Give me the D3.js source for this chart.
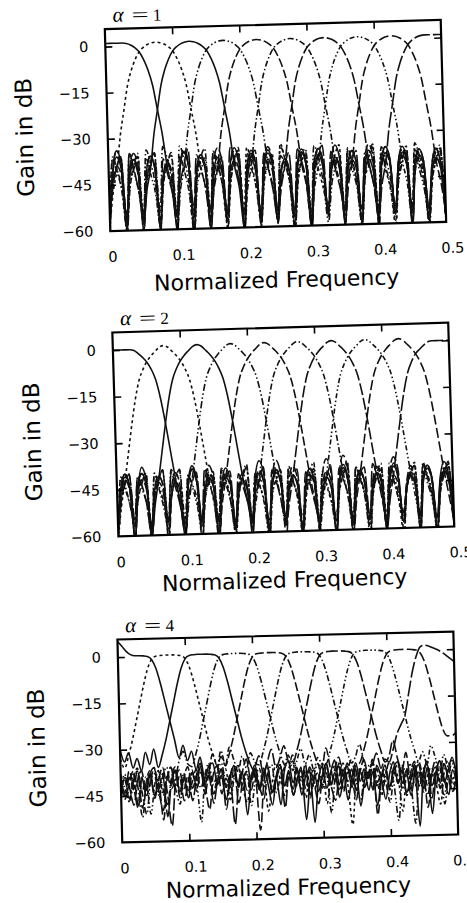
<!DOCTYPE html>
<html>
<head>
<meta charset="utf-8">
<script src="https://cdn.jsdelivr.net/npm/d3@7.9.0/dist/d3.min.js"></script>
<style>
  body { margin: 0; background: #fff; }
</style>
</head>
<body>
<svg id="fig" width="467" height="903"></svg>
<script>
// frequency grid shared by all curves
const freq = [0,.00625,.0125,.01875,.025,.03125,.0375,.04375,.05,.05625,.0625,.06875,.075,.08125,.0875,.09375,
  .1,.10625,.1125,.11875,.125,.13125,.1375,.14375,.15,.15625,.1625,.16875,.175,.18125,.1875,.19375,
  .2,.20625,.2125,.21875,.225,.23125,.2375,.24375,.25,.25625,.2625,.26875,.275,.28125,.2875,.29375,
  .3,.30625,.3125,.31875,.325,.33125,.3375,.34375,.35,.35625,.3625,.36875,.375,.38125,.3875,.39375,
  .4,.40625,.4125,.41875,.425,.43125,.4375,.44375,.45,.45625,.4625,.46875,.475,.48125,.4875,.49375,.5];

const xTicks = [0, 0.1, 0.2, 0.3, 0.4, 0.5];
const xTickLabels = ["0", "0.1", "0.2", "0.3", "0.4", "0.5"];
const yTicks = [0, -15, -30, -45, -60];
const yTickLabels = ["0", "\u221215", "\u221230", "\u221245", "\u221260"];
const alphas = ["1", "2", "4"];

// main lobe (gain in dB around the band centre)
const lobe1 = [-40,-29,-21,-13,-8,-4.5,-2,-0.6,0.3,0.8,1,0.8,0.3,-0.6,-2,-4.5,-8,-13,-21,-29,-40];
const lobe2 = [-42,-33,-24,-16,-10,-6.5,-4,-2.2,-0.8,0.5,1,0.5,-0.8,-2.2,-4,-6.5,-10,-16,-24,-33,-42];
const lobe3 = [-36,-32,-27,-21,-15,-9,-4,-1,0,0.2,0.3,0.3,0.3,0.2,0,-1,-4,-9,-15,-21,-27,-32,-36];

// ---- alpha = 1 ----
const a1b0 = [1,1,1,1,1,0.8,0.3,-0.6,-2,-4.5,-8,-13,-21,-29,-40,-47,
  -60,-40,-35,-39,-56,-40,-36,-40,-61,-42,-37,-41,-55,-39,-34,-38,-60,-43,-38,-42,-57,-40,-35,-39,-54,-42,-39,-42,-60,-41,-36,-40,
  -58,-39,-35,-39,-56,-42,-38,-41,-61,-40,-36,-40,-55,-43,-39,-43,-59,-41,-37,-40,-57,-40,-35,-39,-60,-42,-38,-41,-56,-41,-36,-40,-58];
const a1b1 = [-58,-47, ...lobe1, -47,
  -57,-36,-38,-46,-60,-45,-37,-35,-55,-34,-39,-47,-59,-44,-40,-36,-56,-33,-38,-45,-61,-46,-39,-37,-57,-38,-42,-48,
  -54,-43,-37,-34,-60,-35,-40,-46,-58,-45,-41,-38,-56,-37,-43,-49,-61,-44,-38,-35,-57,-36,-41,-47,-59,-46,-40,-37,-56];
const a1b2 = [-57,-41,-36,-40,-60,-42,-37,-41,-58,-47, ...lobe1, -47,
  -61,-40,-35,-39,-56,-41,-36,-40,-59,-43,-38,-42,-55,-39,-35,-39,-60,-42,-37,-41,-57,-40,-34,-38,
  -55,-42,-39,-42,-60,-41,-36,-40,-58,-39,-35,-39,-56,-42,-38,-41,-61,-40,-36,-40,-55,-43,-39,-42,-59];
const a1b3 = [-56,-44,-39,-36,-60,-35,-41,-47,-57,-46,-38,-35,-54,-33,-37,-45,-59,-47, ...lobe1, -47,
  -58,-37,-40,-46,-61,-45,-39,-36,-56,-34,-38,-46,-59,-47,-41,-37,-55,-36,-42,-48,
  -60,-44,-38,-34,-57,-35,-39,-45,-55,-46,-40,-37,-60,-38,-43,-49,-58,-43,-37,-35,-57];
const a1b4 = [-59,-40,-34,-38,-56,-42,-37,-41,-61,-41,-36,-40,-57,-43,-39,-42,-55,-40,-35,-39,-60,-42,-37,-41,-57,-47, ...lobe1, -47,
  -60,-40,-35,-39,-56,-42,-38,-42,-59,-41,-36,-40,-55,-39,-34,-38,-61,-42,-37,-41,-57,-40,-36,-40,-54,-43,-39,-42,-60,-41,-36,-40,-58];
const a1b5 = [-55,-37,-41,-47,-60,-46,-40,-36,-57,-34,-38,-45,-59,-45,-39,-35,-56,-36,-41,-48,-61,-44,-37,-34,
  -55,-35,-40,-46,-58,-45,-38,-36,-60,-47, ...lobe1, -47,
  -57,-36,-39,-46,-60,-44,-38,-35,-55,-37,-42,-48,-59,-45,-39,-36,-56,-34,-38,-45,-61,-46,-40,-37,-55];
const a1b6 = [-58,-40,-34,-38,-55,-42,-38,-42,-60,-41,-36,-40,-56,-43,-39,-42,-61,-40,-35,-39,-57,-41,-37,-41,
  -54,-39,-34,-38,-60,-42,-38,-41,-57,-40,-36,-40,-59,-43,-38,-42,-56,-47, ...lobe1, -47,
  -58,-40,-35,-39,-55,-42,-37,-41,-61,-41,-36,-40,-57,-43,-39,-42,-60];
const a1b7 = [-60,-36,-40,-46,-57,-45,-39,-35,-55,-37,-42,-48,-59,-44,-38,-36,-56,-33,-37,-45,-61,-46,-41,-37,
  -57,-35,-39,-46,-55,-44,-38,-34,-60,-36,-41,-47,-58,-45,-40,-37,-56,-34,-38,-45,-61,-44,-37,-35,-57,-47, ...lobe1, -47,
  -59,-36,-40,-46,-56,-45,-39,-36,-61];
const a1b8 = [-57,-43,-39,-42,-61,-40,-35,-39,-56,-41,-36,-40,-59,-42,-38,-41,-55,-40,-34,-38,-60,-41,-36,-40,
  -58,-43,-39,-42,-56,-40,-35,-39,-61,-42,-37,-41,-55,-39,-34,-38,-59,-42,-38,-42,-57,-40,-36,-40,
  -60,-41,-35,-39,-56,-43,-39,-42,-59,-47, ...lobe1, -47,-57];
const a1b9 = [-56,-45,-39,-36,-59,-35,-40,-47,-55,-44,-38,-35,-61,-37,-42,-48,-57,-45,-39,-34,-54,-36,-41,-47,
  -60,-46,-40,-37,-57,-34,-38,-45,-55,-44,-37,-35,-60,-36,-41,-48,-58,-46,-40,-36,-56,-35,-39,-46,
  -61,-44,-37,-34,-57,-36,-42,-48,-55,-45,-39,-36,-59,-37,-41,-47,-57,-47,
  -40,-29,-21,-13,-8,-4.5,-2,-0.6,0.3,0.8,1,1,1,1,1];

// ---- alpha = 2 ----
const a2b0 = [0,0,0,0,0,-0.3,-1.3,-2.6,-4.2,-6.5,-10,-16,-24,-33,-42,-50,
  -61,-43,-38,-42,-57,-46,-42,-45,-60,-44,-39,-43,-56,-47,-43,-46,-62,-45,-41,-44,-58,-44,-40,-44,-55,-46,-42,-45,-61,-45,-40,-44,
  -59,-47,-43,-46,-57,-44,-39,-43,-62,-46,-41,-45,-56,-45,-42,-45,-60,-44,-40,-44,-58,-47,-43,-46,-61,-45,-41,-44,-57,-44,-39,-43,-59];
const a2b1 = [-60,-50, ...lobe2, -50,
  -58,-40,-43,-49,-61,-48,-42,-39,-56,-41,-45,-50,-60,-47,-43,-40,-57,-39,-44,-50,-62,-49,-44,-41,-58,-42,-46,-51,
  -55,-47,-42,-38,-61,-40,-44,-49,-59,-48,-43,-40,-56,-41,-45,-51,-62,-47,-42,-39,-58,-40,-44,-50,-60,-48,-43,-41,-57];
const a2b2 = [-58,-44,-40,-44,-61,-45,-38,-42,-60,-50, ...lobe2, -50,
  -57,-42,-37,-41,-61,-45,-41,-44,-56,-46,-42,-45,-60,-44,-40,-44,-58,-47,-43,-46,-62,-45,-40,-44,
  -57,-44,-41,-45,-55,-46,-42,-45,-61,-45,-39,-43,-58,-47,-43,-46,-56,-44,-40,-44,-61,-46,-42,-45,-58];
const a2b3 = [-62,-48,-43,-40,-57,-41,-45,-50,-60,-47,-42,-39,-56,-39,-43,-49,-59,-50, ...lobe2, -50,
  -58,-40,-44,-49,-61,-48,-43,-40,-56,-41,-45,-51,-60,-47,-42,-39,-57,-40,-44,-50,
  -62,-48,-43,-41,-58,-39,-43,-49,-55,-47,-42,-40,-60,-42,-46,-51,-57,-48,-43,-39,-61];
const a2b4 = [-57,-46,-42,-45,-61,-44,-40,-44,-58,-45,-41,-44,-55,-47,-43,-46,-60,-44,-39,-43,-56,-43,-38,-42,-61,-50, ...lobe2, -50,
  -57,-42,-37,-41,-60,-45,-41,-44,-56,-46,-42,-45,-62,-44,-40,-44,-58,-47,-43,-46,-55,-45,-40,-44,-61,-44,-41,-45,-57,-46,-42,-45,-60];
const a2b5 = [-60,-41,-44,-50,-56,-48,-43,-40,-62,-40,-45,-51,-58,-47,-42,-39,-55,-41,-44,-49,-61,-48,-43,-41,
  -57,-39,-44,-50,-59,-46,-41,-38,-56,-50, ...lobe2, -50,
  -60,-40,-43,-49,-57,-48,-42,-39,-61,-41,-45,-51,-56,-47,-43,-40,-59,-39,-44,-50,-62,-48,-42,-40,-58];
const a2b6 = [-58,-45,-41,-44,-61,-44,-40,-44,-56,-47,-43,-46,-60,-45,-40,-44,-57,-44,-39,-43,-62,-46,-42,-45,
  -55,-45,-41,-44,-59,-47,-43,-46,-56,-44,-40,-44,-60,-43,-37,-41,-58,-50, ...lobe2, -50,
  -57,-42,-37,-41,-61,-46,-42,-45,-56,-44,-40,-44,-60,-45,-41,-44,-57];
const a2b7 = [-61,-41,-45,-50,-57,-48,-43,-40,-59,-40,-44,-49,-55,-47,-42,-39,-62,-41,-45,-51,-58,-48,-43,-40,
  -56,-39,-44,-50,-60,-47,-42,-39,-57,-41,-45,-51,-62,-48,-43,-40,-58,-40,-44,-49,-55,-46,-41,-38,-60,-50, ...lobe2, -50,
  -57,-40,-43,-49,-61,-48,-42,-40,-59];
const a2b8 = [-56,-44,-40,-44,-60,-46,-42,-45,-57,-45,-41,-44,-62,-47,-43,-46,-58,-44,-39,-43,-55,-45,-40,-44,
  -61,-46,-42,-45,-57,-44,-41,-45,-59,-47,-43,-46,-56,-45,-40,-44,-62,-44,-39,-43,-58,-46,-42,-45,
  -60,-45,-41,-44,-57,-42,-36,-40,-61,-50, ...lobe2, -50,-58];
const a2b9 = [-59,-48,-43,-40,-55,-41,-44,-50,-61,-47,-42,-39,-57,-40,-45,-51,-60,-48,-43,-40,-56,-39,-44,-49,
  -62,-47,-42,-40,-58,-41,-45,-50,-55,-48,-43,-39,-61,-40,-44,-50,-57,-47,-42,-40,-60,-41,-45,-51,
  -56,-48,-43,-39,-62,-40,-44,-49,-58,-47,-42,-40,-57,-39,-43,-48,-60,-50,
  -42,-33,-24,-16,-10,-6.5,-4,-2.6,-1.3,-0.3,0,0,0,0,0];

// ---- alpha = 4 ----
const a3b0 = [5,3.5,1.8,0.7,0.3,0.3,0.2,0,-1,-4,-9,-15,-21,-27,-33,-29,
  -34,-31,-37,-33,-40,-36,-35,-42,-39,-47,-40,-36,-43,-38,-52,-41,-37,-44,-39,-36,-45,-40,-49,-38,-35,-42,-37,-46,-40,-38,
  -55,-42,-37,-44,-39,-35,-43,-38,-48,-41,-36,-42,-38,-45,-39,-50,-41,-37,-44,-38,-36,-43,-39,-47,-40,-37,-45,-38,-53,-41,
  -36,-43,-39,-35,-42];
const a3b1 = [-33, ...lobe3,
  -40,-37,-45,-39,-36,-43,-48,-40,-37,-44,-38,-51,-42,-36,-41,-46,-39,-35,-43,-40,-47,-38,-44,-41,-36,-49,-40,-37,-45,-39,
  -43,-56,-41,-38,-44,-40,-36,-42,-47,-39,-45,-38,-41,-52,-40,-37,-44,-39,-46,-41,-38,-43,-50,-40,-36,-44,-39];
const a3b2 = [-30,-34,-31,-36,-33,-37,-31,-35,-30, ...lobe3,
  -39,-44,-37,-42,-49,-40,-36,-43,-38,-46,-41,-37,-54,-42,-38,-45,-40,-36,-43,-39,-47,-41,-37,-44,-38,
  -50,-42,-39,-45,-37,-41,-48,-40,-36,-43,-39,-46,-42,-38,-57,-41,-37,-44,-40,-36,-42,-47,-39,-44];
const a3b3 = [-42,-38,-46,-40,-37,-44,-51,-41,-38,-45,-39,-36,-43,-40,-34,-31,-35, ...lobe3,
  -37,-33,-39,-44,-38,-47,-40,-36,-43,-39,-52,-41,-37,-45,-39,-35,-42,-48,-40,-37,
  -44,-38,-46,-41,-36,-43,-55,-40,-38,-45,-39,-36,-42,-47,-40,-44,-38,-50,-41,-37,-43];
const a3b4 = [-39,-45,-41,-37,-48,-40,-43,-38,-36,-44,-50,-39,-42,-37,-46,-40,-36,-43,-39,-35,-41,-38,-32,-36,-33, ...lobe3,
  -37,-31,-38,-42,-36,-45,-39,-41,-48,-38,-44,-40,-36,-53,-42,-38,-45,-39,-43,-37,-47,-40,-36,-44,-39,-51,-41,-38,-45,-37,
  -42,-46,-40];
const a3b5 = [-44,-40,-47,-38,-42,-52,-41,-37,-45,-39,-43,-48,-40,-36,-44,-38,-46,-41,-37,-43,-39,-35,-42,-38,-31,-36,-30,
  -34,-38,-33,-37,-32,-35, ...lobe3,
  -34,-30,-36,-41,-35,-44,-39,-42,-49,-40,-37,-45,-39,-43,-56,-41,-38,-44,-40,-36,-43,-47,-39,-42,-38];
const a3b6 = [-41,-46,-39,-43,-37,-49,-42,-38,-45,-40,-36,-44,-55,-41,-37,-43,-39,-47,-40,-36,-42,-38,-45,-41,-37,-50,-40,
  -36,-43,-38,-34,-41,-37,-33,-39,-35,-31,-37,-34,-30,-35, ...lobe3,
  -34,-29,-35,-39,-33,-42,-37,-44,-40,-36,-48,-39,-43,-37,-41,-46,-39];
const a3b7 = [-38,-43,-47,-40,-36,-44,-39,-51,-42,-37,-45,-40,-36,-43,-48,-39,-44,-38,-41,-54,-40,-37,-45,-39,-35,-42,-47,
  -40,-36,-44,-38,-49,-41,-37,-43,-39,-36,-45,-40,-37,-33,-38,-35,-31,-36,-33,-38,-34,-36, ...lobe3,
  -33,-37,-31,-35,-40,-34,-38,-36,-41];
const a3b8 = [-45,-39,-42,-48,-40,-37,-44,-38,-46,-41,-53,-40,-36,-43,-39,-47,-41,-37,-44,-38,-42,-50,-39,-36,-45,-40,-43,
  -37,-48,-41,-38,-44,-39,-57,-42,-37,-45,-40,-36,-43,-39,-46,-41,-38,-44,-37,-42,-49,-40,-36,-43,-38,-34,-40,-36,-41,-37,
  -36,-32,-27,-21,-15,-9,-4,-1,0,0.2,0.3,0.3,0.3,0.2,0,-1,-4,-9,-15,-21,-26,-28,-28,-27];
const a3b9 = [-40,-44,-37,-42,-49,-39,-45,-41,-36,-43,-38,-52,-41,-37,-44,-40,-46,-38,-42,-36,-45,-39,-48,-41,-37,-43,-39,
  -55,-42,-38,-44,-40,-36,-43,-47,-39,-45,-41,-37,-50,-40,-44,-38,-42,-36,-46,-41,-39,-44,-37,-43,-48,-40,-36,-42,-38,-45,
  -39,-35,-41,-37,-33,-38,-35,
  -36,-32,-27,-24,-21,-14,-7,-2,1,1.5,1.2,0.6,0,-0.8,-1.8,-2.9,-4];

// line style of each band (same order in all panels)
const bandDash = ["none", "3,3", "none", "7,2.5,1.5,2.5,1.5,2.5", "9,3", "6,2.5,1.5,2.5",
  "12,3", "5,2.5,1.5,2.5,1.5,2.5", "10,3.5", "16,3"];

// panel placement on the page (the scan is slightly tilted)
const panels = [
  { bands: [a1b0,a1b1,a1b2,a1b3,a1b4,a1b5,a1b6,a1b7,a1b8,a1b9], cx: 275.5, cy: 125.5, angle: -1.55, h: 202, xlabY: 162 },
  { bands: [a2b0,a2b1,a2b2,a2b3,a2b4,a2b5,a2b6,a2b7,a2b8,a2b9], cx: 283.3, cy: 429.5, angle: -1.7, h: 204, xlabY: 158 },
  { bands: [a3b0,a3b1,a3b2,a3b3,a3b4,a3b5,a3b6,a3b7,a3b8,a3b9], cx: 287.8, cy: 737, angle: -1.36, h: 203, xlabY: 158 }
];

const svg = d3.select("#fig");
const sansFont = "'DejaVu Sans', sans-serif";
const serifFont = "'Liberation Serif', 'DejaVu Serif', serif";

function drawPanel(p, idx) {
  const w = 336, h = p.h;
  const g = svg.append("g").attr("transform", `translate(${p.cx},${p.cy}) rotate(${p.angle})`);

  let x = d3.scaleLinear().domain([0, 0.5]).range([-w / 2, w / 2]);
  let y = d3.scaleLinear().domain([-60, 5.7]).range([h / 2, -h / 2]);

  g.append("clipPath").attr("id", "clip" + idx)
    .append("rect")
    .attr("x", -w / 2).attr("y", -h / 2)
    .attr("width", w).attr("height", h);

  let line = d3.line()
    .x((d, i) => x(freq[i]))
    .y(d => y(d))
    .curve(d3.curveMonotoneX);

  g.append("g")
    .attr("clip-path", `url(#clip${idx})`)
    .selectAll("path")
    .data(p.bands)
    .join("path")
      .attr("fill", "none")
      .attr("stroke", "#111")
      .attr("stroke-width", 1.6)
      .attr("stroke-dasharray", (d, i) => bandDash[i])
      .attr("d", line);

  // inward ticks on all four sides
  const innerX = xTicks.slice(1, -1);
  const innerY = yTicks.slice(0, -1);
  const tickAxes = [
    [d3.axisBottom(x).tickValues(innerX), `translate(0,${h / 2})`],
    [d3.axisTop(x).tickValues(innerX), `translate(0,${-h / 2})`],
    [d3.axisLeft(y).tickValues(innerY), `translate(${-w / 2},0)`],
    [d3.axisRight(y).tickValues(innerY), `translate(${w / 2},0)`]
  ];
  tickAxes.forEach(([axis, tr]) => {
    g.append("g")
      .attr("transform", tr)
      .call(axis.tickSize(-7).tickFormat(""))
      .call(a => a.select(".domain").remove())
      .selectAll("line").attr("stroke", "#000").attr("stroke-width", 1.6);
  });

  // frame
  g.append("rect")
    .attr("x", -w / 2).attr("y", -h / 2)
    .attr("width", w).attr("height", h)
    .attr("fill", "none")
    .attr("stroke", "#000")
    .attr("stroke-width", 2.2);

  // tick labels (the printed labels sit a little right of their ticks)
  g.selectAll(".xl")
    .data(xTicks)
    .join("text")
      .attr("class", "xl")
      .attr("x", d => x(d) + (d === 0 ? 2 : 6))
      .attr("y", h / 2 + 31)
      .attr("text-anchor", "middle")
      .attr("font-family", sansFont)
      .attr("font-size", 14.5)
      .text((d, i) => xTickLabels[i]);

  g.selectAll(".yl")
    .data(yTicks)
    .join("text")
      .attr("class", "yl")
      .attr("x", -w / 2 - 17)
      .attr("y", d => y(d) + 5)
      .attr("text-anchor", "end")
      .attr("font-family", sansFont)
      .attr("font-size", 14.5)
      .text((d, i) => yTickLabels[i]);

  // axis names
  g.append("text")
    .attr("x", -3)
    .attr("y", p.xlabY)
    .attr("text-anchor", "middle")
    .attr("font-family", sansFont)
    .attr("font-size", 22)
    .text("Normalized Frequency");

  g.append("text")
    .attr("transform", `translate(${-w / 2 - 83},5) rotate(-90)`)
    .attr("text-anchor", "middle")
    .attr("dominant-baseline", "central")
    .attr("font-family", sansFont)
    .attr("font-size", 23)
    .text("Gain in dB");

  // alpha = n title
  const tx = -w / 2 + 8, ty = -h / 2 - 7;
  g.append("text")
    .attr("x", tx).attr("y", ty)
    .attr("font-family", serifFont).attr("font-style", "italic").attr("font-size", 21)
    .text("\u03b1");
  g.append("text")
    .attr("x", tx + 19).attr("y", ty)
    .attr("font-family", serifFont).attr("font-size", 19)
    .attr("textLength", 17).attr("lengthAdjust", "spacingAndGlyphs")
    .text("=");
  g.append("text")
    .attr("x", tx + 40.5).attr("y", ty)
    .attr("font-family", serifFont).attr("font-size", 17)
    .text(alphas[idx]);
}

panels.forEach((p, i) => drawPanel(p, i));

// sanity check of the typed arrays
panels.forEach((p, pi) => p.bands.forEach((b, bi) => {
  if (b.length !== freq.length) throw new Error(`panel ${pi} band ${bi} has ${b.length} values`);
}));
</script>
</body>
</html>
